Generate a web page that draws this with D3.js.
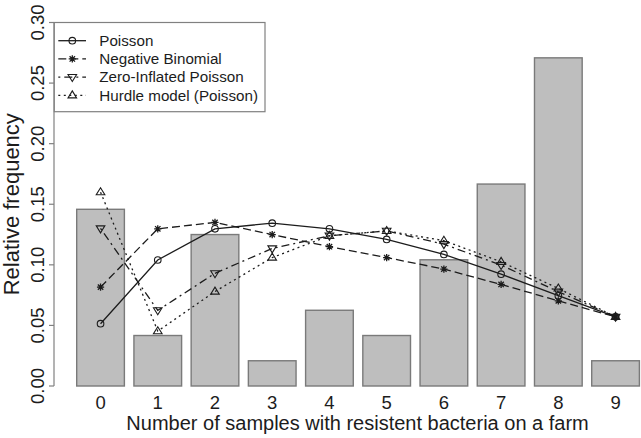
<!DOCTYPE html>
<html><head><meta charset="utf-8">
<script src="https://cdnjs.cloudflare.com/ajax/libs/d3/7.8.5/d3.min.js"></script>
<style>html,body{margin:0;padding:0;background:#fff;}svg{display:block;font-family:"Liberation Sans",Arial,sans-serif;}</style>
</head><body>
<script>
const categories = ["0","1","2","3","4","5","6","7","8","9"];
const observed = [7/48, 2/48, 6/48, 1/48, 3/48, 2/48, 5/48, 8/48, 13/48, 1/48];
const poisson   = [0.0514, 0.104, 0.1297, 0.1344, 0.1297, 0.121, 0.1086, 0.0923, 0.0745, 0.0571];
const negbin    = [0.0816, 0.1297, 0.135, 0.125, 0.115, 0.106, 0.0965, 0.0838, 0.0703, 0.0571];
const zip       = [0.130, 0.0624, 0.093, 0.1135, 0.124, 0.128, 0.117, 0.0998, 0.0778, 0.0571];
const hurdle    = [0.160, 0.0453, 0.078, 0.106, 0.124, 0.128, 0.120, 0.1025, 0.0805, 0.0571];
const yTicks = [0, 0.05, 0.10, 0.15, 0.20, 0.25, 0.30];
const legendLabels = ["Poisson", "Negative Binomial", "Zero-Inflated Poisson", "Hurdle model (Poisson)"];
const xLabel = "Number of samples with resistent bacteria on a farm";
const yLabel = "Relative frequency";

const W = 641, H = 438;
const ink = "#1c1c1c", gray = "#808080";
const svg = d3.select("body").append("svg").attr("width", W).attr("height", H);

const x = d3.scaleBand().domain(categories).range([76.7, 639.4]).paddingInner(0.2/1.2).paddingOuter(0);
const y = d3.scaleLinear().domain([0, 0.3]).range([386, 22.5]);
const axisX = 54;

// bars
svg.append("g").selectAll("rect").data(observed).join("rect")
  .attr("x", (d,i) => x(categories[i]))
  .attr("y", d => y(d))
  .attr("width", x.bandwidth())
  .attr("height", d => y(0) - y(d))
  .attr("fill", "#bebebe").attr("stroke", "#7a7a7a").attr("stroke-width", 1.4);

// y axis
const yAxis = svg.append("g");
yAxis.append("line").attr("x1", axisX).attr("x2", axisX).attr("y1", y(0)).attr("y2", y(0.3))
  .attr("stroke", gray).attr("stroke-width", 1.2);
yAxis.selectAll("line.t").data(yTicks).join("line").attr("class","t")
  .attr("x1", axisX - 5).attr("x2", axisX).attr("y1", d => y(d)).attr("y2", d => y(d))
  .attr("stroke", gray).attr("stroke-width", 1.2);
yAxis.selectAll("text").data(yTicks).join("text")
  .attr("transform", d => `translate(44,${y(d)}) rotate(-90)`)
  .attr("text-anchor", "middle").attr("font-size", 18.5).attr("fill", ink)
  .text(d => d3.format(".2f")(d));

// x tick labels
svg.append("g").selectAll("text").data(categories).join("text")
  .attr("x", d => x(d) + x.bandwidth()/2).attr("y", 408.5)
  .attr("text-anchor", "middle").attr("font-size", 18.5).attr("fill", ink).text(d => d);

// axis titles
svg.append("text").attr("x", (x(categories[0]) + x(categories[9]) + x.bandwidth())/2 - 0.5).attr("y", 430)
  .attr("text-anchor", "middle").attr("font-size", 20).attr("fill", ink).text(xLabel);
svg.append("text").attr("transform", `translate(18.5,${(y(0)+y(0.3))/2}) rotate(-90)`)
  .attr("text-anchor", "middle").attr("font-size", 22).attr("fill", ink).text(yLabel);

// symbols
function drawSym(g, type, cx, cy) {
  const s = 3.6;
  if (type === "circle") {
    g.append("circle").attr("cx", cx).attr("cy", cy).attr("r", 3.3)
      .attr("fill", "none").attr("stroke", ink).attr("stroke-width", 1.1);
  } else if (type === "star") {
    const p = d3.path();
    p.moveTo(cx - s, cy); p.lineTo(cx + s, cy);
    p.moveTo(cx, cy - s); p.lineTo(cx, cy + s);
    const d = s * 0.75;
    p.moveTo(cx - d, cy - d); p.lineTo(cx + d, cy + d);
    p.moveTo(cx - d, cy + d); p.lineTo(cx + d, cy - d);
    g.append("path").attr("d", p.toString()).attr("stroke", ink).attr("stroke-width", 1.3).attr("fill", "none");
  } else if (type === "down") {
    const p = d3.path();
    p.moveTo(cx - 4.3, cy - 2.6); p.lineTo(cx + 4.3, cy - 2.6); p.lineTo(cx, cy + 4.4); p.closePath();
    g.append("path").attr("d", p.toString()).attr("stroke", ink).attr("stroke-width", 1.1).attr("fill", "none");
  } else if (type === "up") {
    const p = d3.path();
    p.moveTo(cx - 4.3, cy + 2.6); p.lineTo(cx + 4.3, cy + 2.6); p.lineTo(cx, cy - 4.4); p.closePath();
    g.append("path").attr("d", p.toString()).attr("stroke", ink).attr("stroke-width", 1.1).attr("fill", "none");
  }
}

const seriesList = [
  {vals: poisson, dash: null, sym: "circle"},
  {vals: negbin, dash: "8,4", sym: "star"},
  {vals: zip, dash: "2,4,8,4", sym: "down"},
  {vals: hurdle, dash: "2,3.5", sym: "up"}
];
const line = d3.line().x((d,i) => x(categories[i]) + x.bandwidth()/2).y(d => y(d));
seriesList.forEach(s => {
  const g = svg.append("g");
  g.append("path").attr("d", line(s.vals)).attr("fill", "none").attr("stroke", ink)
    .attr("stroke-width", 1.3).attr("stroke-dasharray", s.dash);
  s.vals.forEach((v,i) => drawSym(g, s.sym, x(categories[i]) + x.bandwidth()/2, y(v)));
});

// legend
const lg = svg.append("g");
lg.append("rect").attr("x", axisX + 0.3).attr("y", y(0.3)).attr("width", 265 - axisX - 0.3).attr("height", 111.7 - y(0.3))
  .attr("fill", "#fff").attr("stroke", gray).attr("stroke-width", 1.2);
const rowY = [40.7, 58.9, 77.1, 95.3];
seriesList.forEach((s,i) => {
  lg.append("line").attr("x1", 58.3).attr("x2", 86).attr("y1", rowY[i]).attr("y2", rowY[i])
    .attr("stroke", ink).attr("stroke-width", 1.3).attr("stroke-dasharray", s.dash);
  drawSym(lg, s.sym, 72.3, rowY[i]);
  lg.append("text").attr("x", 99.3).attr("y", rowY[i] + 5.3).attr("font-size", 15.2).attr("fill", ink).text(legendLabels[i]);
});
</script>
</body></html>
